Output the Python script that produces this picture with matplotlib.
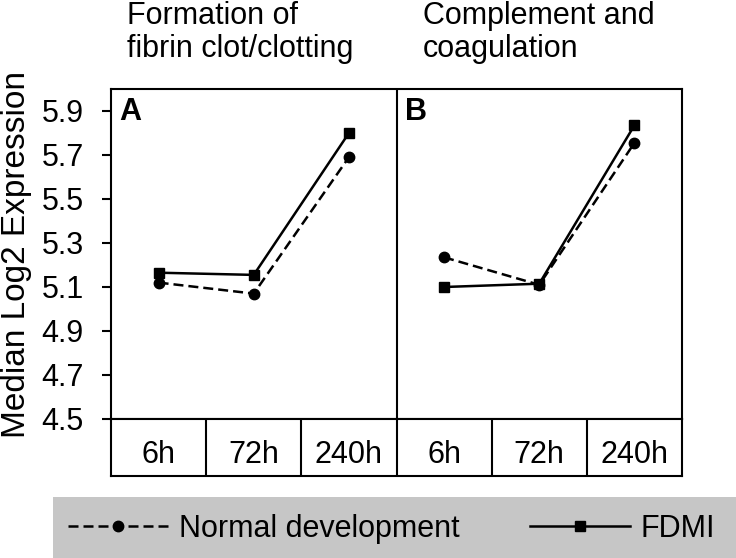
"""Median log2 expression of two pathways, normal development vs FDMI."""

import matplotlib
matplotlib.use("Agg")
import matplotlib.pyplot as plt

plt.rcParams["font.family"] = ["Liberation Sans", "DejaVu Sans"]

TIMEPOINTS = ["6h", "72h", "240h"]
PANEL_TITLES = ["Formation of\nfibrin clot/clotting", "Complement and\ncoagulation"]
PANEL_LABELS = ["A", "B"]

# panel A / panel B values
NORMAL_A = [5.12, 5.07, 5.69]
FDMI_A = [5.165, 5.155, 5.80]
NORMAL_B = [5.235, 5.11, 5.755]
FDMI_B = [5.10, 5.115, 5.835]

YTICKS = [4.5, 4.7, 4.9, 5.1, 5.3, 5.5, 5.7, 5.9]

FS = 22
LW = 1.8
W, H = 736, 558

fig = plt.figure(figsize=(W / 100, H / 100), dpi=100)


def fx(px):
    return px / W


def fy(py):
    return 1 - py / H


ax = fig.add_axes([fx(111), fy(419), fx(682) - fx(111), fy(89) - fy(419)])
tab = fig.add_axes([fx(111), fy(476), fx(682) - fx(111), fy(419) - fy(476)])

n = len(TIMEPOINTS)
normal_style = dict(color="black", linestyle="--", dashes=(4, 2), linewidth=LW,
                    marker="o", markersize=7.5, label="Normal development")
fdmi_style = dict(color="black", linestyle="-", linewidth=LW,
                  marker="s", markersize=6.5, label="FDMI")

handles = None
for i, (normal, fdmi) in enumerate([(NORMAL_A, FDMI_A), (NORMAL_B, FDMI_B)]):
    xs = [i * n + j + 0.5 for j in range(n)]
    h1, = ax.plot(xs, normal, **normal_style)
    h2, = ax.plot(xs, fdmi, **fdmi_style)
    if handles is None:
        handles = [h1, h2]
    ax.text((i * n) / (2 * n) + 0.015, 0.975, PANEL_LABELS[i],
            transform=ax.transAxes, fontsize=FS, fontweight="bold",
            ha="left", va="top")

ax.axvline(n, color="black", linewidth=1.5)
ax.set_xlim(0, 2 * n)
ax.set_ylim(4.5, 6.0)
ax.set_yticks(YTICKS)
ax.set_yticklabels([f"{v:.1f}" for v in YTICKS], fontsize=FS)
ax.set_xticks([])
ax.tick_params(axis="y", direction="out", length=6.5, width=1.5, pad=13)
for s in ax.spines.values():
    s.set_linewidth(1.5)

# time-point table under the axes
tab.set_xlim(0, 2 * n)
tab.set_ylim(0, 1)
tab.set_xticks([])
tab.set_yticks([])
for s in tab.spines.values():
    s.set_linewidth(1.5)
for k in range(1, 2 * n):
    tab.axvline(k, color="black", linewidth=1.5)
for i in range(2):
    for j, t in enumerate(TIMEPOINTS):
        tab.text(i * n + j + 0.5, 0.36, t, fontsize=FS, ha="center", va="center")

for i, title in enumerate(PANEL_TITLES):
    fig.text(fx([127, 423][i]), fy(1), title, fontsize=FS, ha="left", va="top",
             linespacing=1.12)

fig.text(fx(1), fy(254), "Median Log2 Expression", fontsize=24,
         rotation=90, ha="left", va="center")

# legend strip
leg_ax = fig.add_axes([fx(53), 0, fx(736) - fx(53), fy(497)])
leg_ax.set_facecolor("#c6c6c6")
leg_ax.set_xticks([])
leg_ax.set_yticks([])
for s in leg_ax.spines.values():
    s.set_visible(False)
leg_ax.legend(handles=handles, loc="center left", bbox_to_anchor=(15 / 683, 0.48),
              ncol=2, frameon=False, fontsize=FS, handlelength=3.27,
              handletextpad=0.36, columnspacing=2.3, borderaxespad=0,
              borderpad=0)

fig.savefig("out.png", dpi=100)
